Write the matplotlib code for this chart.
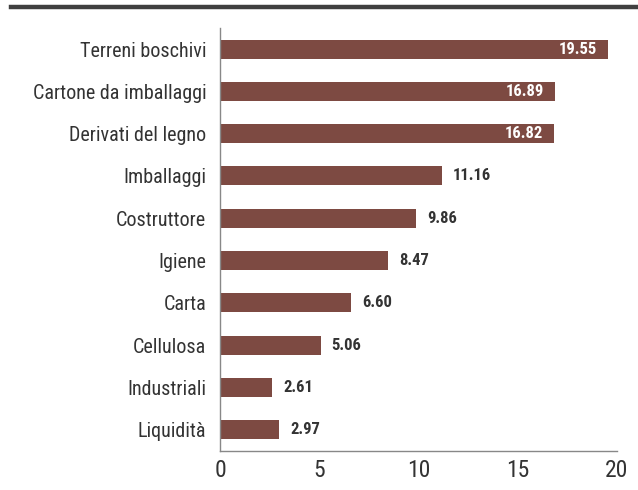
import matplotlib

matplotlib.use("Agg")
import matplotlib.pyplot as plt
from matplotlib import font_manager
from matplotlib.lines import Line2D

categories = [
    "Terreni boschivi",
    "Cartone da imballaggi",
    "Derivati del legno",
    "Imballaggi",
    "Costruttore",
    "Igiene",
    "Carta",
    "Cellulosa",
    "Industriali",
    "Liquidità",
]
values = [19.55, 16.89, 16.82, 11.16, 9.86, 8.47, 6.60, 5.06, 2.61, 2.97]
x_ticks = [0, 5, 10, 15, 20]

BAR_COLOR = "#7d4a42"
TEXT_COLOR = "#333333"

installed = {f.name for f in font_manager.fontManager.ttflist}
family = "DejaVu Sans"
for name in ["Liberation Sans Narrow", "DejaVu Sans Condensed", "Roboto Condensed"]:
    if name in installed:
        family = name
        break
plt.rcParams["font.family"] = [family, "DejaVu Sans"]

fig = plt.figure(figsize=(6.38, 4.9), dpi=100)
ax = fig.add_axes([0.345, 0.08, 0.622, 0.863])

ys = list(range(len(categories)))
ax.barh(ys, values, height=0.45, color=BAR_COLOR)
ax.set_ylim(len(categories) - 0.5, -0.5)
ax.set_xlim(0, 20)
ax.set_yticks(ys, categories, fontsize=14.5, color=TEXT_COLOR)
ax.set_xticks(x_ticks, [str(t) for t in x_ticks], fontsize=17, color=TEXT_COLOR)
ax.tick_params(length=0, axis="y", pad=10)
ax.tick_params(length=0, axis="x", pad=6)

for y, v in zip(ys, values):
    if v > 15:
        ax.annotate(f"{v:.2f}", (v, y), xytext=(-8, 0), textcoords="offset points",
                    ha="right", va="center", color="white", fontsize=12, fontweight="bold")
    else:
        ax.annotate(f"{v:.2f}", (v, y), xytext=(8, 0), textcoords="offset points",
                    ha="left", va="center", color=TEXT_COLOR, fontsize=12, fontweight="bold")

for side in ["top", "right"]:
    ax.spines[side].set_visible(False)
for side in ["left", "bottom"]:
    ax.spines[side].set_color("#888888")
    ax.spines[side].set_linewidth(1)

fig.add_artist(Line2D([11 / 638, 637 / 638], [1 - 7 / 490, 1 - 7 / 490],
                      color="#404040", linewidth=3.2, transform=fig.transFigure))

fig.savefig("out.png", dpi=100)
